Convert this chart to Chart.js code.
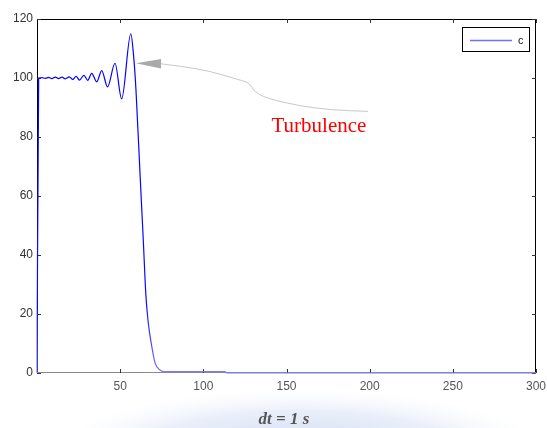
<!DOCTYPE html>
<html><head><meta charset="utf-8">
<script src="https://cdn.jsdelivr.net/npm/chart.js@4"></script>
<style>html,body{margin:0;padding:0;background:#fff;}#wrap{width:547px;height:428px;position:relative;}</style>
</head><body><div id="wrap"><canvas id="c" width="547" height="428"></canvas></div>
<script>
const timeSec = [0,1,3,5,7,9,11,13,15,17,19.5,21.5,23.5,25.5,28.2,30.5,32.9,35.9,38.9,42.4,46.9,50.9,56.4,58,59.5,61.9,63.9,65.5,66.9,69,71,74,76,113,114,300];
const values  = [0,100,100.1,99.9,100.2,99.8,100.3,99.8,100.3,99.7,100.4,99.5,100.6,99.3,100.9,99.2,101.6,98.7,102.5,97.0,105.0,92.9,115.0,108,96,68,45,26,17,9,3.4,1,0.5,0.5,0,0];
const xTicks = [50,100,150,200,250,300];
const yTicks = [0,20,40,60,80,100,120];
const seriesLabel = 'c';
const annotationText = 'Turbulence';
const captionText = 'dt = 1 s';
const arrowTip = [59.5,105];
const arrowBase = [[74.6,106.4],[74.6,103.2]];
const arrowPath = [[74.6,104.8],[98,103.3],[122,99.3],[128,98.3],[130,95.6],[138,93.1],[158,90.5],[178,89.1],[199,88.7]];
const textAnchor = [141,81.7];

const FONT = '"Liberation Sans", Arial, sans-serif';

const decor = {
  id:'decor',
  beforeDraw(chart){
    const c = chart.ctx;
    c.save();
    c.fillStyle='#fff'; c.fillRect(0,0,chart.width,chart.height);
    c.translate(300,450); c.scale(1,0.25);
    const g = c.createRadialGradient(0,0,0,0,0,240);
    g.addColorStop(0,'rgba(195,210,240,0.8)');
    g.addColorStop(0.65,'rgba(210,222,245,0.5)');
    g.addColorStop(1,'rgba(235,240,250,0)');
    c.fillStyle=g; c.beginPath(); c.arc(0,0,240,0,Math.PI*2); c.fill();
    c.restore();
  },
  beforeDatasetsDraw(chart){
    const c = chart.ctx, a = chart.chartArea, xs = chart.scales.x, ys = chart.scales.y;
    c.save();
    c.lineWidth = 1;
    c.strokeStyle = '#000';
    c.beginPath();
    c.moveTo(a.left+0.5, a.bottom); c.lineTo(a.left+0.5, a.top+0.5);
    c.lineTo(a.right-0.5, a.top+0.5); c.lineTo(a.right-0.5, a.bottom);
    c.stroke();
    c.strokeStyle = '#8a8a8a';
    c.beginPath(); c.moveTo(a.left, a.bottom-0.5); c.lineTo(a.right, a.bottom-0.5); c.stroke();
    const tl = 4;
    c.strokeStyle = '#333';
    c.beginPath();
    xTicks.forEach(v=>{
      const px = Math.round(xs.getPixelForValue(v))+0.5;
      c.moveTo(px,a.bottom); c.lineTo(px,a.bottom-tl);
      c.moveTo(px,a.top); c.lineTo(px,a.top+tl);
    });
    yTicks.forEach(v=>{
      const py = Math.round(ys.getPixelForValue(v))+0.5;
      c.moveTo(a.left,py); c.lineTo(a.left+tl,py);
      c.moveTo(a.right,py); c.lineTo(a.right-tl,py);
    });
    c.stroke();
    c.restore();
  },
  afterDraw(chart){
    const c = chart.ctx, a = chart.chartArea, xs = chart.scales.x, ys = chart.scales.y;
    const P = p => [xs.getPixelForValue(p[0]), ys.getPixelForValue(p[1])];
    c.save();
    const pts = arrowPath.map(P);
    c.strokeStyle = '#c8c8c8'; c.lineWidth = 1;
    c.beginPath(); c.moveTo(pts[0][0],pts[0][1]);
    for(let i=1;i<pts.length-1;i++){
      const mx=(pts[i][0]+pts[i+1][0])/2, my=(pts[i][1]+pts[i+1][1])/2;
      c.quadraticCurveTo(pts[i][0],pts[i][1],mx,my);
    }
    c.lineTo(pts[pts.length-1][0],pts[pts.length-1][1]);
    c.stroke();
    const t = P(arrowTip), b1 = P(arrowBase[0]), b2 = P(arrowBase[1]);
    c.fillStyle = '#a9a9a9';
    c.beginPath(); c.moveTo(t[0],t[1]); c.lineTo(b1[0],b1[1]); c.lineTo(b2[0],b2[1]); c.closePath(); c.fill();
    const tp = P(textAnchor);
    c.fillStyle = '#ff0000';
    c.font = '21px "Liberation Serif", "Times New Roman", serif';
    c.textAlign = 'left'; c.textBaseline = 'alphabetic';
    c.fillText(annotationText, tp[0], tp[1]);
    const x1 = a.right-74, x2 = a.right-6, y1 = a.top+8, y2 = a.top+33;
    c.fillStyle = '#fff'; c.fillRect(x1,y1,x2-x1,y2-y1);
    c.strokeStyle = '#000'; c.lineWidth = 1;
    c.strokeRect(x1+0.5,y1+0.5,x2-x1-1,y2-y1-1);
    const ly = Math.round((y1+y2)/2)+0.5;
    c.strokeStyle = '#7070ff'; c.lineWidth = 1.3;
    c.beginPath(); c.moveTo(x1+8,ly); c.lineTo(x1+50,ly); c.stroke();
    c.fillStyle = '#111'; c.font = '11px '+FONT; c.textBaseline='middle';
    c.fillText(seriesLabel, x1+56, ly);
    c.fillStyle = '#555';
    c.font = 'bold italic 17px "Liberation Serif", "Times New Roman", serif';
    c.textAlign = 'center'; c.textBaseline = 'alphabetic';
    c.fillText(captionText, 284, 424);
    c.restore();
  }
};

new Chart(document.getElementById('c'), {
  type:'line',
  data:{ datasets:[{
    label: seriesLabel,
    data: timeSec.map((t,i)=>({x:t,y:values[i]})),
    borderColor: (ctx)=>{
      const a = ctx.chart.chartArea;
      if(!a) return '#0000ff';
      const g = ctx.chart.ctx.createLinearGradient(0,a.top,0,a.bottom);
      g.addColorStop(0,'#0000ff'); g.addColorStop(0.8,'#0a0aff'); g.addColorStop(1,'#7a7aff');
      return g;
    },
    borderWidth:1.2,
    pointRadius:0,
    cubicInterpolationMode:'monotone',
    fill:false,
    clip:3
  }]},
  options:{
    responsive:false, animation:false, devicePixelRatio:1,
    layout:{padding:{left:0,top:19,right:0,bottom:0}},
    plugins:{legend:{display:false}, tooltip:{enabled:false}},
    scales:{
      x:{ type:'linear', min:0, max:300,
        afterBuildTicks(s){ s.ticks = xTicks.map(v=>({value:v})); },
        afterFit(s){ s.height = 55; s.paddingRight = 11; },
        grid:{display:false, drawTicks:false}, border:{display:false},
        ticks:{ color:'#555', font:{family:FONT,size:12}, padding:6, maxRotation:0, autoSkip:false }
      },
      y:{ min:0, max:120,
        afterBuildTicks(s){ s.ticks = yTicks.map(v=>({value:v})); },
        afterFit(s){ s.width = 37; },
        grid:{display:false, drawTicks:false}, border:{display:false},
        ticks:{ color:'#333', font:{family:FONT,size:12}, padding:4, autoSkip:false }
      }
    }
  },
  plugins:[decor]
});
</script></body></html>
